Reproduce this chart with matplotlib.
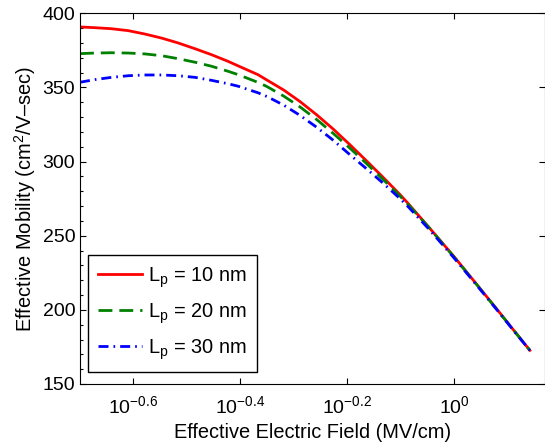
import numpy as np
import matplotlib
matplotlib.use('Agg')
import matplotlib.pyplot as plt
from matplotlib.ticker import MultipleLocator, NullLocator

plt.rcParams['font.family'] = ['Liberation Sans', 'DejaVu Sans']
plt.rcParams['mathtext.fontset'] = 'custom'
plt.rcParams['mathtext.rm'] = 'Liberation Sans'
plt.rcParams['mathtext.it'] = 'Liberation Sans:italic'
plt.rcParams['mathtext.bf'] = 'Liberation Sans:bold'

# effective field (MV/cm) and mobility (cm^2/V-sec)
field = [0.200, 0.2133, 0.229, 0.2461, 0.2645, 0.284, 0.305, 0.328, 0.352, 0.378,
         0.395, 0.430, 0.4467, 0.480, 0.5154, 0.554, 0.5946, 0.639, 0.6864, 0.737,
         0.7919, 0.815, 0.90, 1.0, 1.1, 1.2, 1.3, 1.384]
mu_10nm = [390.8, 390.3, 389.6, 388.3, 386.0, 383.3, 380.0, 376.1, 372.1, 367.6,
           364.5, 358.6, 355.0, 348.3, 340.4, 331.4, 321.8, 311.2, 300.3, 289.2,
           277.7, 272.8, 255.0, 235.7, 217.4, 200.6, 184.9, 172.7]
mu_20nm = [372.8, 373.2, 373.4, 373.2, 372.6, 371.4, 369.4, 367.0, 364.3, 360.9,
           358.6, 353.4, 350.6, 344.2, 336.8, 328.2, 318.9, 308.9, 298.5, 287.8,
           276.7, 272.1, 254.9, 235.4, 217.2, 200.4, 184.8, 172.7]
mu_30nm = [353.5, 355.3, 356.8, 357.9, 358.4, 358.4, 357.9, 356.8, 354.8, 352.5,
           350.8, 346.4, 343.9, 338.1, 331.1, 323.0, 314.3, 304.5, 295.0, 285.3,
           275.0, 270.6, 253.8, 234.8, 216.8, 200.2, 184.6, 172.6]

xticks = [10**-0.6, 10**-0.4, 10**-0.2, 10**0]
xticklabels = [r'$10^{-0.6}$', r'$10^{-0.4}$', r'$10^{-0.2}$', r'$10^{0}$']

fig = plt.figure(figsize=(5.45, 4.45), dpi=100)
ax = fig.add_axes([80/545, 1-384/445, 464.7/545, 370.7/445])

ax.plot(field, mu_10nm, '-', color='red', lw=2, label=r'L$_\mathrm{p}$ = 10 nm')
ax.plot(field, mu_20nm, '--', color='green', lw=2, dashes=(5, 2.5),
        label=r'L$_\mathrm{p}$ = 20 nm')
ax.plot(field, mu_30nm, '-.', color='blue', lw=2, dashes=(3.6, 1.8, 0.6, 1.8),
        label=r'L$_\mathrm{p}$ = 30 nm')

ax.set_xscale('log')
ax.set_xlim(0.2, 1.475)
ax.set_ylim(150, 400)
ax.set_xticks(xticks)
ax.set_xticklabels(xticklabels)
ax.xaxis.set_minor_locator(NullLocator())
ax.yaxis.set_major_locator(MultipleLocator(50))
ax.yaxis.set_minor_locator(MultipleLocator(10))

ax.tick_params(which='both', direction='in', labelsize=14, top=True, right=True)
ax.tick_params(which='major', length=4, width=0.8)
ax.tick_params(which='minor', length=2.5, width=0.8, right=False)
ax.tick_params(axis='x', pad=8)

ax.set_xlabel('Effective Electric Field (MV/cm)', fontsize=14.4, labelpad=4)
ax.set_ylabel('Effective Mobility (cm$^2$/V\u2013sec)', fontsize=14.4, labelpad=3)

leg = ax.legend(loc='lower left', bbox_to_anchor=(0.018, 0.033), borderaxespad=0,
                fontsize=14.4, fancybox=False, edgecolor='black', framealpha=1,
                handlelength=2.2, handletextpad=0.3, labelspacing=0.58, borderpad=0.5)
leg.get_frame().set_linewidth(1)

fig.savefig('out.png', dpi=100)
